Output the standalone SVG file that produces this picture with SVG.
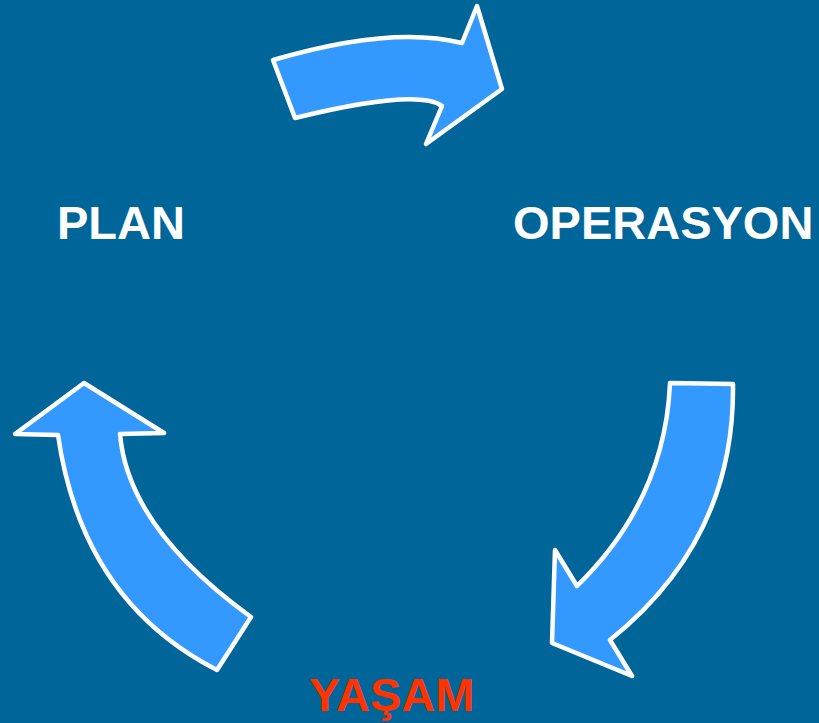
<svg xmlns="http://www.w3.org/2000/svg" width="819" height="723" viewBox="0 0 819 723">
<style>
.arrow{fill:#3399FF;stroke:#FFFFFF;stroke-width:4.5;stroke-linejoin:round}
.lbl{font-family:"Liberation Sans",Arial,sans-serif;font-weight:bold;font-size:47px;fill:#FFFFFF}
.red{fill:#FF3300}
</style>
<rect width="819" height="723" fill="#006699"/>
<g id="connectors">
<path id="arrow-top" class="arrow" d="M273,60 Q392,25 462,43 L477,6 L502,89 L426,144 L442,106 Q417,88 295,118 Z"/>
<path id="arrow-right" class="arrow" d="M670,383 L733,384 Q735,540 610,640 L632,676 L552,643 L555,550 L577,586 Q665,500 670,383 Z"/>
<path id="arrow-left" class="arrow" d="M84,383 L164,433 L120,434 Q128,528 251,617 L217,670 Q82,601 58,435 L15,434 Z"/>
</g>
<g id="plan"><text class="lbl" x="57" y="239">PLAN</text></g>
<g id="operasyon"><text class="lbl" x="513" y="239">OPERASYON</text></g>
<g id="yasam"><text class="lbl red" x="309" y="711">YAŞAM</text></g>
</svg>
